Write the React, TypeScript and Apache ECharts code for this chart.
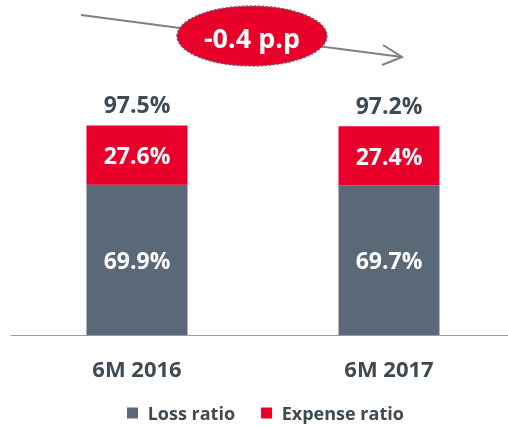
import React, { useEffect, useRef } from "react";
import * as echarts from "echarts";

const categories = ["6M 2016", "6M 2017"];
const lossRatio = [69.9, 69.7];
const expenseRatio = [27.6, 27.4];
const totals = [97.5, 97.2];
const changeLabel = "-0.4 p.p";

const GRAY = "#5b6877";
const RED = "#e8002a";
const TEXT = "#3e4a54";
const FONT = "'Open Sans', sans-serif";

export default function App() {
  const ref = useRef<HTMLDivElement>(null);
  useEffect(() => {
    if (!ref.current) return;
    const chart = echarts.init(ref.current, null, { renderer: "svg" });
    chart.setOption({
      animation: false,
      textStyle: { fontFamily: FONT },
      grid: { left: 11, right: 1, top: 120, bottom: 90, containLabel: false },
      legend: {
        data: ["Loss ratio", "Expense ratio"],
        top: 398,
        left: 122,
        icon: "rect",
        itemWidth: 11,
        itemHeight: 11,
        itemGap: 26,
        padding: 5,
        formatter: (name: string) => ` ${name}`,
        textStyle: { fontFamily: FONT, fontWeight: "bold", fontSize: 18, lineHeight: 20, color: TEXT },
      },
      xAxis: {
        type: "category",
        data: categories,
        axisLine: { lineStyle: { color: "#9a9a9a", width: 1 } },
        axisTick: { show: false },
        axisLabel: { fontFamily: FONT, fontWeight: "bold", fontSize: 22, color: TEXT, margin: 22 },
      },
      yAxis: {
        type: "value",
        min: 0,
        max: 100,
        show: false,
        splitLine: { show: false },
      },
      series: [
        {
          name: "Loss ratio",
          type: "bar",
          stack: "total",
          barWidth: 101,
          data: lossRatio,
          itemStyle: { color: GRAY },
          label: {
            show: true,
            position: "inside",
            formatter: (p: any) => `${p.value.toFixed(1)}%`,
            fontFamily: FONT,
            fontWeight: "bold",
            fontSize: 23,
            color: "#ffffff",
          },
        },
        {
          name: "Expense ratio",
          type: "bar",
          stack: "total",
          barWidth: 101,
          data: expenseRatio,
          itemStyle: { color: RED },
          label: {
            show: true,
            position: "inside",
            formatter: (p: any) => `${p.value.toFixed(1)}%`,
            fontFamily: FONT,
            fontWeight: "bold",
            fontSize: 23,
            color: "#ffffff",
          },
        },
        {
          name: "Total",
          type: "bar",
          stack: "total",
          barWidth: 101,
          data: totals.map(() => 0),
          itemStyle: { color: "transparent" },
          label: {
            show: true,
            position: "top",
            distance: 10,
            formatter: (p: any) => `${totals[p.dataIndex].toFixed(1)}%`,
            fontFamily: FONT,
            fontWeight: "bold",
            fontSize: 23,
            color: TEXT,
          },
        },
      ],
      graphic: [
        {
          type: "line",
          shape: { x1: 81, y1: 15, x2: 402, y2: 57 },
          style: { stroke: "#7f7f7f", lineWidth: 2 },
          z: 10,
        },
        {
          type: "polyline",
          shape: { points: [[383, 45], [402, 57], [382, 65]] },
          style: { stroke: "#7f7f7f", lineWidth: 2, fill: null },
          z: 10,
        },
        {
          type: "ellipse",
          shape: { cx: 252, cy: 36, rx: 75, ry: 30 },
          style: { fill: RED, stroke: GRAY, lineWidth: 1.5, lineDash: [2, 2] },
          z: 11,
        },
        {
          type: "text",
          x: 252,
          y: 37,
          style: {
            text: changeLabel,
            fill: "#ffffff",
            font: `bold 27px ${FONT}`,
            align: "center",
            verticalAlign: "middle",
          },
          z: 12,
        },
      ],
    });
    return () => chart.dispose();
  }, []);
  return (
    <div
      ref={ref}
      style={{ position: "fixed", left: 0, top: 0, width: 516, height: 425 }}
    />
  );
}
